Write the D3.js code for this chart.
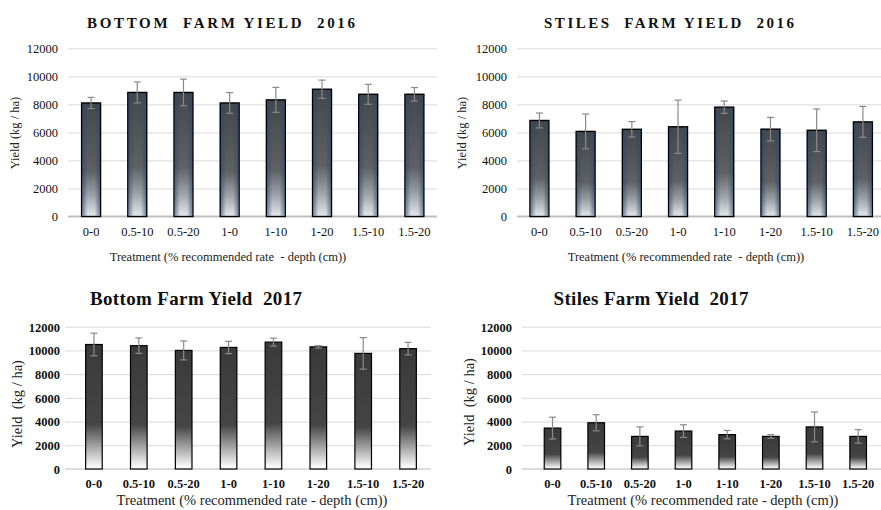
<!DOCTYPE html>
<html>
<head>
<meta charset="utf-8">
<script src="https://cdn.jsdelivr.net/npm/d3@7"></script>
<style>
  body { margin: 0; background: #fff; }
  svg, svg text { font-family: "Liberation Serif", "Times New Roman", serif !important; }
  .grid line { stroke: #d9d9d9; stroke-width: 1; }
  .grid path { display: none; }
  .xax path, .xax line { display: none; }
</style>
</head>
<body>
<div id="graph"></div>
<script>
var categories = ["0-0", "0.5-10", "0.5-20", "1-0", "1-10", "1-20", "1.5-10", "1.5-20"];
var yTicks = [0, 2000, 4000, 6000, 8000, 10000, 12000];

var bottom2016 = [8100, 8850, 8850, 8100, 8320, 9080, 8720, 8720];
var bottom2016Err = [400, 750, 950, 740, 890, 650, 710, 480];
var stiles2016 = [6850, 6070, 6220, 6400, 7800, 6230, 6150, 6750];
var stiles2016Err = [530, 1240, 550, 1900, 440, 840, 1520, 1100];
var bottom2017 = [10500, 10400, 10000, 10250, 10700, 10300, 9750, 10150];
var bottom2017Err = [950, 650, 800, 520, 330, 100, 1330, 530];
var stiles2017 = [3450, 3900, 2750, 3200, 2900, 2750, 3550, 2750];
var stiles2017Err = [920, 680, 800, 530, 350, 150, 1260, 570];

var titles = ["BOTTOM  FARM YIELD  2016", "STILES  FARM YIELD  2016", "Bottom Farm Yield  2017", "Stiles Farm Yield  2017"];
var xTitles = ["Treatment (% recommended rate  - depth (cm))", "Treatment (% recommended rate  - depth (cm))",
               "Treatment (% recommended rate - depth (cm))", "Treatment (% recommended rate - depth (cm))"];
var yTitles = ["Yield (kg / ha)", "Yield (kg / ha)", "Yield  (kg / ha)", "Yield  (kg / ha)"];

var svg = d3.select("#graph").append("svg").attr("width", 881).attr("height", 510);

var defs = svg.append("defs");
var g16 = defs.append("linearGradient").attr("id", "fill16").attr("x1", 0).attr("y1", 0).attr("x2", 0).attr("y2", 1);
g16.append("stop").attr("offset", "0").attr("stop-color", "#44474b");
g16.append("stop").attr("offset", "0.6").attr("stop-color", "#5f6164");
g16.append("stop").attr("offset", "0.82").attr("stop-color", "#9fa4a9");
g16.append("stop").attr("offset", "1").attr("stop-color", "#e6e9ec");
var h16 = defs.append("linearGradient").attr("id", "edge16").attr("x1", 0).attr("y1", 0).attr("x2", 1).attr("y2", 0);
h16.append("stop").attr("offset", "0").attr("stop-color", "#2a4a70").attr("stop-opacity", 0.6);
h16.append("stop").attr("offset", "0.3").attr("stop-color", "#2a4a70").attr("stop-opacity", 0);
h16.append("stop").attr("offset", "0.7").attr("stop-color", "#2a4a70").attr("stop-opacity", 0);
h16.append("stop").attr("offset", "1").attr("stop-color", "#2a4a70").attr("stop-opacity", 0.6);
var g17 = defs.append("linearGradient").attr("id", "fill17").attr("x1", 0).attr("y1", 0).attr("x2", 0).attr("y2", 1);
g17.append("stop").attr("offset", "0").attr("stop-color", "#3a3a3a");
g17.append("stop").attr("offset", "0.64").attr("stop-color", "#454545");
g17.append("stop").attr("offset", "0.97").attr("stop-color", "#f4f4f4");
g17.append("stop").attr("offset", "1").attr("stop-color", "#ffffff");

var panels = [
  { vals: bottom2016, errs: bottom2016Err, x0: 68, x1: 437.5, gx0: 68, gx1: 437, top: 48.3, bot: 216.5,
    tx: 221, ty: 28, tLen: 268, tSize: 15, bold17: false, ylx: 58, yTx: 19, yTy: 133, xly: 236, xtx: 228, xty: 261, fill: "fill16", bw: 0.41 },
  { vals: stiles2016, errs: stiles2016Err, x0: 516.3, x1: 886, gx0: 517, gx1: 881, top: 48.3, bot: 216.5,
    tx: 669, ty: 28, tLen: 250, tSize: 15, bold17: false, ylx: 507, yTx: 466, yTy: 133, xly: 236, xtx: 686, xty: 261, fill: "fill16", bw: 0.41 },
  { vals: bottom2017, errs: bottom2017Err, x0: 71.5, x1: 430.5, gx0: 65, gx1: 431, top: 326.7, bot: 469,
    tx: 196, ty: 305, tLen: 212, tSize: 19, bold17: true, ylx: 60, yTx: 22, yTy: 404, xly: 488, xtx: 252, xty: 505, fill: "fill17", bw: 0.37 },
  { vals: stiles2017, errs: stiles2017Err, x0: 530.7, x1: 880, gx0: 522, gx1: 881, top: 326.7, bot: 469,
    tx: 651, ty: 305, tLen: 195, tSize: 19, bold17: true, ylx: 512, yTx: 474, yTy: 402, xly: 488, xtx: 703, xty: 505, fill: "fill17", bw: 0.38 }
];

panels.forEach(function(p, k){
  var g = svg.append("g");
  var x = d3.scaleBand().domain(categories).range([p.x0, p.x1]).paddingInner(0).paddingOuter(0);
  var y = d3.scaleLinear().domain([0, 12000]).range([p.bot, p.top]);

  // gridlines
  g.append("g").attr("class", "grid")
    .attr("transform", "translate(" + p.gx0 + ",0)")
    .call(d3.axisLeft(y).tickValues(yTicks.slice(1)).tickSize(-(p.gx1 - p.gx0)).tickFormat(""));
  // baseline
  g.append("line").attr("x1", p.gx0).attr("x2", p.gx1).attr("y1", y(0)).attr("y2", y(0))
    .attr("stroke", p.bold17 ? "#d0d0d0" : "#bfbfbf").attr("stroke-width", p.bold17 ? 1.5 : 2);

  // y tick labels
  var ya = g.append("g").attr("transform", "translate(" + p.ylx + ",0)")
    .call(d3.axisLeft(y).tickValues(yTicks).tickSize(0).tickPadding(0).tickFormat(d3.format("d")));
  ya.select(".domain").remove();
  ya.attr("font-family", null).attr("font-size", null);
  ya.selectAll("text").style("font-size", "12.5px")
    .attr("font-weight", p.bold17 ? "bold" : "normal").attr("fill", "#111").attr("dy", "0.35em");

  // x tick labels
  var xa = g.append("g").attr("class", "xax").attr("transform", "translate(0," + (p.xly - 9) + ")")
    .call(d3.axisBottom(x).tickSize(0).tickPadding(0));
  xa.attr("font-family", null).attr("font-size", null);
  xa.selectAll("text").style("font-size", "12.5px")
    .attr("font-weight", p.bold17 ? "bold" : "normal").attr("fill", "#111").attr("dy", "0.71em");

  // bars
  var bw = x.bandwidth() * p.bw;
  g.selectAll("rect.barra").data(p.vals).enter().append("rect")
    .attr("class", "barra")
    .attr("x", function(d, i){ return x(categories[i]) + (x.bandwidth() - bw) / 2; })
    .attr("y", function(d){ return y(d); })
    .attr("width", bw)
    .attr("height", function(d){ return y(0) - y(d); })
    .attr("fill", "url(#" + p.fill + ")")
    .attr("stroke", "#000").attr("stroke-width", p.bold17 ? 1.2 : 1.4);
  if (!p.bold17) {
    g.selectAll("rect.edge").data(p.vals).enter().append("rect")
      .attr("class", "edge")
      .attr("x", function(d, i){ return x(categories[i]) + (x.bandwidth() - bw) / 2 + 0.7; })
      .attr("y", function(d){ return y(d) + 0.7; })
      .attr("width", bw - 1.4)
      .attr("height", function(d){ return y(0) - y(d) - 1.4; })
      .attr("fill", "url(#edge16)");
  }

  // error bars
  var eb = g.selectAll("g.err").data(p.vals).enter().append("g").attr("class", "err")
    .attr("stroke", "#8a8a8a").attr("stroke-width", 1.2);
  eb.append("line")
    .attr("x1", function(d, i){ return x(categories[i]) + x.bandwidth() / 2; })
    .attr("x2", function(d, i){ return x(categories[i]) + x.bandwidth() / 2; })
    .attr("y1", function(d, i){ return y(d + p.errs[i]); })
    .attr("y2", function(d, i){ return y(d - p.errs[i]); });
  [1, -1].forEach(function(s){
    eb.append("line")
      .attr("x1", function(d, i){ return x(categories[i]) + x.bandwidth() / 2 - 3.5; })
      .attr("x2", function(d, i){ return x(categories[i]) + x.bandwidth() / 2 + 3.5; })
      .attr("y1", function(d, i){ return y(d + s * p.errs[i]); })
      .attr("y2", function(d, i){ return y(d + s * p.errs[i]); });
  });

  // titles
  g.append("text").text(titles[k])
    .attr("x", p.tx).attr("y", p.ty).attr("text-anchor", "middle")
    .style("font-size", p.tSize + "px").attr("font-weight", "bold").attr("fill", "#111")
    .attr("textLength", p.tLen).attr("lengthAdjust", "spacing")
    .style("white-space", "pre");
  g.append("text").text(xTitles[k])
    .attr("x", p.xtx).attr("y", p.xty).attr("text-anchor", "middle")
    .style("font-size", (p.bold17 ? 14.5 : 12.5) + "px").attr("fill", "#222").style("white-space", "pre");
  g.append("text").text(yTitles[k])
    .attr("transform", "translate(" + p.yTx + "," + p.yTy + ") rotate(-90)")
    .attr("text-anchor", "middle")
    .style("font-size", (p.bold17 ? 14.5 : 12.5) + "px").attr("fill", "#222").style("white-space", "pre");
});
</script>
</body>
</html>
